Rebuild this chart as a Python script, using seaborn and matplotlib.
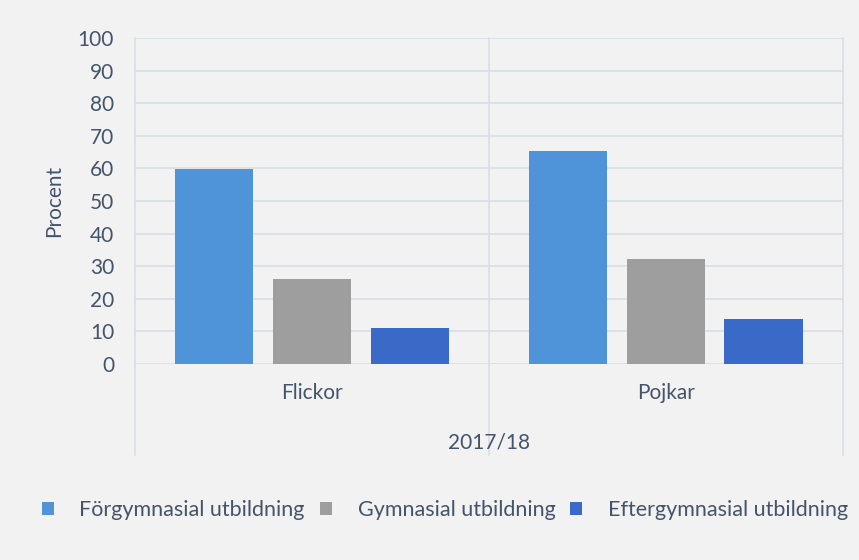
import pandas as pd
import seaborn as sns
import matplotlib.pyplot as plt
from matplotlib.patches import Patch

# Data
groups = ['Flickor', 'Pojkar']
levels = ['Förgymnasial utbildning', 'Gymnasial utbildning', 'Eftergymnasial utbildning']
forgymnasial = [59.7, 65.3]
gymnasial = [26.0, 32.2]
eftergymnasial = [11.0, 13.8]
year_label = '2017/18'
yticks = list(range(0, 101, 10))

colors = ['#4f94d8', '#9e9e9e', '#3a6ac8']
text_color = '#44546a'
bg = '#f2f2f2'

df = pd.DataFrame({
    'Grupp': groups * 3,
    'Utbildning': [levels[0]] * 2 + [levels[1]] * 2 + [levels[2]] * 2,
    'Procent': forgymnasial + gymnasial + eftergymnasial,
})

sns.set_theme(style='white')
plt.rcParams['font.family'] = ['Lato', 'DejaVu Sans']

fig = plt.figure(figsize=(8.59, 5.60), dpi=100, facecolor=bg)
ax = fig.add_axes([0.157, 0.35, 0.824, 0.582], facecolor=bg)

sns.barplot(data=df, x='Grupp', y='Procent', hue='Utbildning', hue_order=levels,
            palette=colors, saturation=1, width=0.83, gap=0.2, ax=ax, legend=False,
            edgecolor='none')

ax.set_ylim(0, 100)
ax.set_xlim(-0.5, 1.5)
ax.set_yticks(yticks)
ax.set_yticklabels([str(t) for t in yticks], fontsize=15, color=text_color)
ax.tick_params(axis='y', length=0, pad=15)
ax.tick_params(axis='x', length=0, pad=14)
ax.set_xticks([0, 1])
ax.set_xticklabels(groups, fontsize=15, color=text_color)
ax.set_xlabel('')
ax.set_ylabel('Procent', fontsize=15, color=text_color, labelpad=10)

for t in yticks:
    ax.axhline(t, color='#dadfe6', lw=1.3, zorder=0)
for s in ax.spines.values():
    s.set_visible(False)

# category separators that run down into the label area
for xv in [-0.5, 0.5, 1.5]:
    ax.plot([xv, xv], [1.0, -0.28], transform=ax.get_xaxis_transform(),
            color='#dadfe6', lw=1.3, clip_on=False, zorder=0)

ax.text(0.5, -0.24, year_label, transform=ax.transAxes, ha='center', va='center',
        fontsize=15, color=text_color)

handles = [Patch(facecolor=c, edgecolor='none') for c in colors]
fig.legend(handles, levels, loc='center', bbox_to_anchor=(0.518, 0.089), ncol=3,
           frameon=False, fontsize=15.5, labelcolor=text_color,
           handlelength=0.55, handleheight=0.55, handletextpad=1.2, columnspacing=0.7)

fig.savefig('out.png', dpi=100, facecolor=bg)
